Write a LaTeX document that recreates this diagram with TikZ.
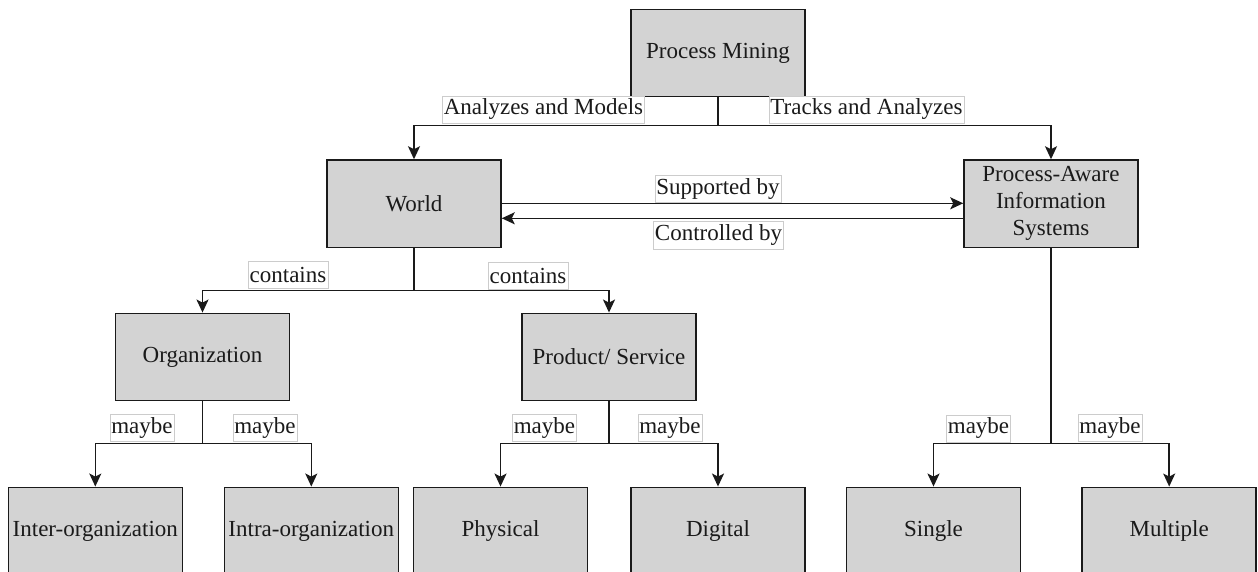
\documentclass[tikz,border=0pt]{standalone}
\usepackage{fontspec}
\setmainfont{LiberationSerif}[Extension=.ttf, UprightFont=*-Regular, BoldFont=*-Bold]
\usetikzlibrary{arrows.meta,calc}
\definecolor{boxfill}{HTML}{D3D3D3}
\definecolor{tagframe}{HTML}{CCCCCC}
\definecolor{ink}{HTML}{1A1A1A}
\begin{document}
\begin{tikzpicture}[x=1pt,y=-1pt,
  box/.style={draw=ink, line width=1.5pt, fill=boxfill, minimum width=174pt,
    minimum height=87.4pt, inner sep=0pt, align=center, text=ink,
    font=\rmfamily\fontsize{23}{27}\selectfont},
  tag/.style={draw=tagframe, line width=0.6pt, fill=white, inner xsep=1.5pt,
    inner ysep=0pt, minimum height=27pt, text=ink,
    font=\rmfamily\fontsize{23}{27}\selectfont},
  link/.style={draw=ink, line width=1.5pt,
    -{Stealth[length=13pt,width=12pt,inset=3pt]}},
  trunk/.style={draw=ink, line width=1.5pt}]
\clip (0,0) rectangle (1258,572);

% boxes
\node[box] (pm)     at (718,53)      {Process Mining};
\node[box] (world)  at (414,203.7)   {World};
\node[box] (pais)   at (1051,203.7)  {Process-Aware\\Information\\Systems};
\node[box] (org)    at (202.5,357)   {Organization};
\node[box] (prod)   at (609,357)     {Product/ Service};
\node[box] (inter)  at (95.3,531)    {Inter-organization};
\node[box] (intra)  at (311.3,531)   {Intra-organization};
\node[box] (phys)   at (500.5,531)   {Physical};
\node[box] (dig)    at (718,531)     {Digital};
\node[box] (single) at (933.5,531)   {Single};
\node[box] (multi)  at (1169.2,531)  {Multiple};

% branching points
\coordinate (pmj)    at (718,125.7);
\coordinate (worldj) at (414,290.5);
\coordinate (orgj)   at (202.5,443.3);
\coordinate (prodj)  at (609,443.3);
\coordinate (paisj)  at (1051,443.3);

% tree connectors
\draw[link] (pm.south) -- (pmj) -| (world.north);
\draw[link] (pm.south) -- (pmj) -| (pais.north);
\draw[link] (world.south) -- (worldj) -| (org.north);
\draw[link] (world.south) -- (worldj) -| (prod.north);
\draw[link] (org.south) -- (orgj) -| (inter.north);
\draw[link] (org.south) -- (orgj) -| (intra.north);
\draw[link] (prod.south) -- (prodj) -| (phys.north);
\draw[link] (prod.south) -- (prodj) -| (dig.north);
\draw[link] (pais.south) -- (paisj) -| (single.north);
\draw[link] (pais.south) -- (paisj) -| (multi.north);

% two-way relation between World and the information systems
\draw[link] ($(world.east)+(0,-0.4)$) -- ($(pais.west)+(0,-0.4)$);
\draw[link] ($(pais.west)+(0,14.6)$) -- ($(world.east)+(0,14.6)$);

% edge labels
\node[tag] (t1)  at (543.5,109.5) {Analyzes and Models};
\node[tag] (t2)  at (866.5,109.5) {Tracks and Analyzes};
\node[tag] (t3)  at (718,189)     {Supported by};
\node[tag] (t4)  at (718.5,235.3) {Controlled by};
\node[tag] (t5)  at (288,274.5)   {contains};
\node[tag] (t6)  at (528,275.5)   {contains};
\node[tag] (t7)  at (142,428)     {maybe};
\node[tag] (t8)  at (265,428)     {maybe};
\node[tag] (t9)  at (544.5,428)   {maybe};
\node[tag] (t10) at (670,428)     {maybe};
\node[tag] (t11) at (978.5,428.5) {maybe};
\node[tag] (t12) at (1110,428)    {maybe};
\end{tikzpicture}
\end{document}
